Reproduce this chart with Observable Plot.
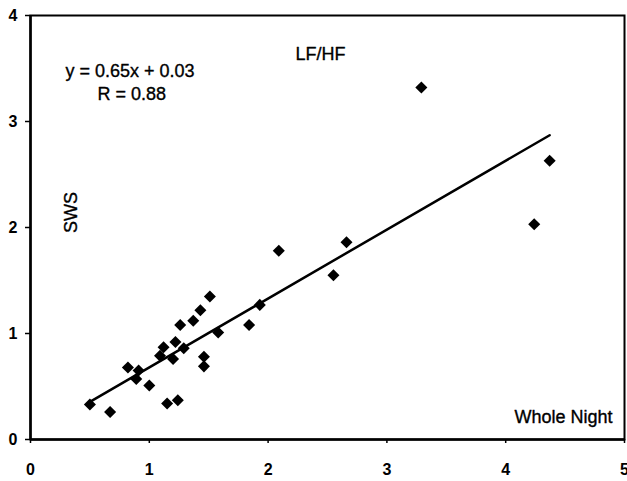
<!DOCTYPE html>
<html>
<head>
<meta charset="utf-8">
<script src="https://cdn.jsdelivr.net/npm/d3@7"></script>
<script src="https://cdn.jsdelivr.net/npm/@observablehq/plot@0.6"></script>
<style>
  html, body { margin: 0; padding: 0; background: #fff; }
  #chart svg { display: block; }
</style>
</head>
<body>
<div id="chart"></div>
<script>
// LF/HF whole night (x) vs LF/HF SWS (y)
const wholeNight = [0.50, 0.67, 0.82, 0.91, 0.89, 1.00, 1.09, 1.12, 1.22, 1.20, 1.29, 1.26, 1.37, 1.43, 1.51, 1.46, 1.46, 1.15, 1.24, 1.58, 1.84, 1.93, 2.09, 2.55, 2.66, 3.29, 4.37, 4.24];
const sws        = [0.33, 0.26, 0.68, 0.65, 0.57, 0.51, 0.79, 0.87, 0.92, 0.76, 0.86, 1.08, 1.12, 1.22, 1.35, 0.78, 0.69, 0.34, 0.37, 1.01, 1.08, 1.27, 1.78, 1.55, 1.86, 3.32, 2.63, 2.03];
const slope = 0.65;
const intercept = 0.03;
const xTicks = [0, 1, 2, 3, 4, 5];
const yTicks = [0, 1, 2, 3, 4];
const equationText = "y = 0.65x + 0.03";
const rText = "R = 0.88";
const titleText = "LF/HF";
const yLabelText = "SWS";
const xLabelText = "Whole Night";

const points = wholeNight.map((x, i) => ({x, y: sws[i]}));
const fitLine = d3.extent(wholeNight).map(x => ({x, y: slope * x + intercept}));

const font = "'Liberation Sans', Arial, sans-serif";
const textStyle = {text: d => d, fontSize: 18, fill: "black", stroke: "black", strokeWidth: 0.35, lineAnchor: "middle"};

const chart = Plot.plot({
  width: 627,
  height: 481,
  marginLeft: 30,
  marginRight: 3,
  marginTop: 15,
  marginBottom: 42,
  style: {fontFamily: font, fontSize: "16px", color: "black", background: "white"},
  x: {domain: [0, 5]},
  y: {domain: [0, 4]},
  marks: [
    Plot.frame({stroke: "black", strokeWidth: 2}),
    Plot.ruleX([0], {stroke: "black", strokeWidth: 2.5}),
    Plot.ruleY([0], {stroke: "black", strokeWidth: 2.5}),
    Plot.axisX({ticks: xTicks, tickSize: 4, tickPadding: 20, tickFormat: d3.format("d"), fontWeight: "bold", fontSize: 16, strokeWidth: 1.5, label: null}),
    Plot.axisY({ticks: yTicks, tickSize: 5, tickPadding: 8, tickFormat: d3.format("d"), fontWeight: "bold", fontSize: 16, strokeWidth: 1.5, label: null}),
    Plot.line(fitLine, {x: "x", y: "y", stroke: "black", strokeWidth: 2.5}),
    Plot.dot(points, {x: "x", y: "y", symbol: "square", rotate: 45, r: 4.8, fill: "black", stroke: "none"}),
    Plot.text([equationText], {...textStyle, frameAnchor: "top-left", textAnchor: "start", dx: 35, dy: 56}),
    Plot.text([rText], {...textStyle, frameAnchor: "top-left", textAnchor: "start", dx: 67, dy: 79}),
    Plot.text([titleText], {...textStyle, frameAnchor: "top-left", textAnchor: "start", dx: 265, dy: 38.5}),
    Plot.text([yLabelText], {...textStyle, frameAnchor: "top-left", textAnchor: "middle", rotate: -90, dx: 41, dy: 197}),
    Plot.text([xLabelText], {...textStyle, frameAnchor: "bottom-right", textAnchor: "end", dx: -12, dy: -22})
  ]
});
document.getElementById("chart").appendChild(chart);
</script>
</body>
</html>
